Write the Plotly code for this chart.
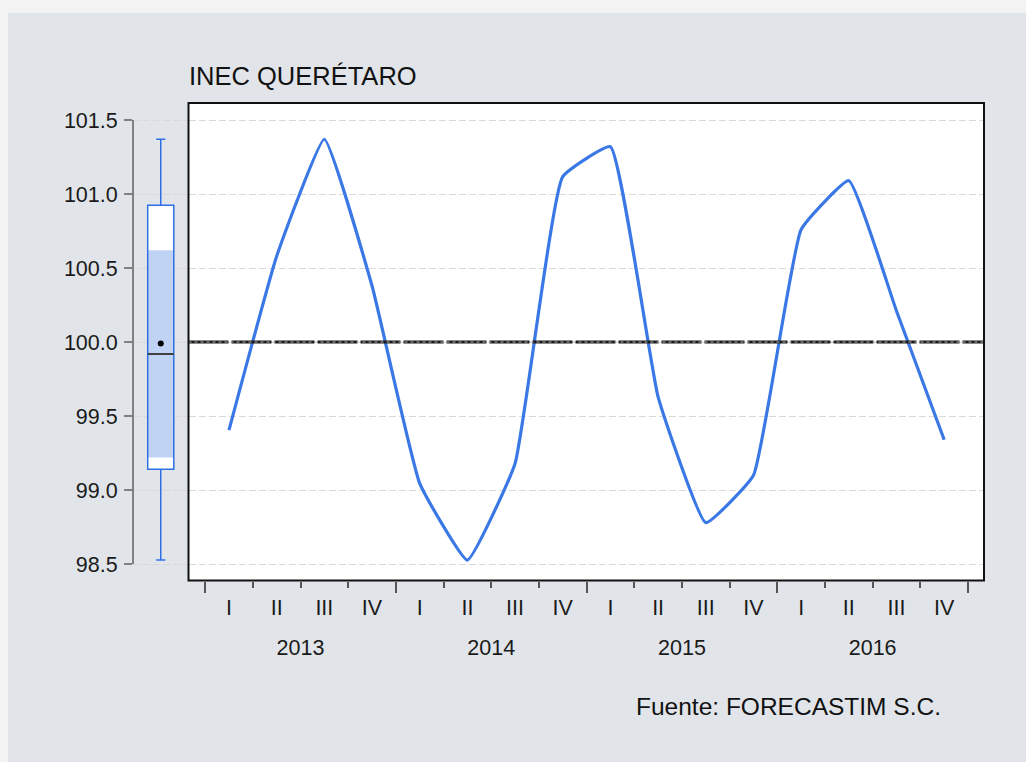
import numpy as np
import plotly.graph_objects as go

# ---------------- data ----------------
years = ["2013", "2014", "2015", "2016"]
quarters = ["I", "II", "III", "IV"]
inec = [99.405, 100.58, 101.37, 100.38,
        99.045, 98.527, 99.18, 101.117,
        101.32, 99.63, 98.78, 99.10,
        100.76, 101.09, 100.21, 99.34]
reference_level = 100.0
y_ticks = [98.5, 99.0, 99.5, 100.0, 100.5, 101.0, 101.5]
title_text = "INEC QUERÉTARO"
source_text = "Fuente: FORECASTIM S.C."

# ---------------- derived ----------------
vals = np.array(inec)
n = len(vals)
idx = list(range(n))
q_labels = [quarters[i % 4] for i in idx]
bounds = [i - 0.5 for i in range(n + 1)]
year_bounds = [i - 0.5 for i in range(0, n + 1, 4)]
year_centers = [i * 4 + 1.5 for i in range(len(years))]

q1 = float(np.percentile(vals, 25, method="hazen"))
q3 = float(np.percentile(vals, 75, method="hazen"))
med = float(np.median(vals))
mean = float(np.mean(vals))
iqr = q3 - q1
ci_lo = med - 1.57 * iqr / np.sqrt(n)
ci_hi = med + 1.57 * iqr / np.sqrt(n)

# ---------------- style ----------------
W, H = 1026, 762
FONT = "Arial, Liberation Sans, Helvetica, sans-serif"
BLUE = "#2f6fe6"
LINE_BLUE = "#3a78e6"
LIGHT_BLUE = "#c0d3f5"
PANEL = "#e1e5e9"

def px_x(p):
    return p / W

def px_y(p):
    return 1 - p / H

x_dom = [px_x(188.5), px_x(984)]
x2_dom = [px_x(133), px_x(188.5)]
y_dom = [px_y(580.5), px_y(103)]
x_range = [-0.849, 15.835]
y_range = [98.389, 101.615]
box_w = 0.94

fig = go.Figure()

# box panel fills (bars are drawn below the box layer)
fig.add_trace(go.Bar(x=[0], y=[q3 - q1], base=[q1], width=box_w,
                     marker=dict(color="white", line=dict(width=0)),
                     xaxis="x2", yaxis="y", showlegend=False, hoverinfo="skip"))
fig.add_trace(go.Bar(x=[0], y=[ci_hi - ci_lo], base=[ci_lo], width=box_w,
                     marker=dict(color=LIGHT_BLUE, line=dict(width=0)),
                     xaxis="x2", yaxis="y", showlegend=False, hoverinfo="skip"))
fig.add_trace(go.Box(y=inec, x=[0] * n, width=box_w, boxpoints=False,
                     quartilemethod="exclusive", whiskerwidth=0.35,
                     fillcolor="rgba(0,0,0,0)", line=dict(color=BLUE, width=1.5),
                     xaxis="x2", yaxis="y", showlegend=False))
fig.add_trace(go.Scatter(x=[-box_w / 2, box_w / 2], y=[med, med], mode="lines",
                         line=dict(color="#404040", width=2),
                         xaxis="x2", yaxis="y", showlegend=False, hoverinfo="skip"))
fig.add_trace(go.Scatter(x=[0], y=[mean], mode="markers",
                         marker=dict(color="black", size=6),
                         xaxis="x2", yaxis="y", showlegend=False))

# main series
fig.add_trace(go.Scatter(x=idx, y=inec, mode="lines",
                         line=dict(color=LINE_BLUE, width=3.2, shape="spline", smoothing=0.35),
                         xaxis="x", yaxis="y", showlegend=False))

# helper (invisible) trace so the year axis is drawn
fig.add_trace(go.Scatter(x=year_centers, y=[None] * len(year_centers), mode="markers",
                         xaxis="x3", yaxis="y", showlegend=False, hoverinfo="skip"))

tickfont = dict(family=FONT, size=21.5, color="#1a1a1a")

fig.update_layout(
    width=W, height=H,
    margin=dict(l=0, r=0, t=0, b=0),
    paper_bgcolor="#f3f3f3",
    plot_bgcolor="rgba(0,0,0,0)",
    barmode="overlay",
    xaxis=dict(domain=x_dom, range=x_range, anchor="y",
               tickmode="array", tickvals=idx, ticktext=q_labels, ticks="",
               tickfont=tickfont, ticklabelstandoff=12,
               showgrid=False, zeroline=False, showline=False,
               minor=dict(tickmode="array", tickvals=bounds, ticks="outside",
                          ticklen=6, tickwidth=1.5, tickcolor="#555555", showgrid=False)),
    xaxis3=dict(overlaying="x", anchor="y", side="bottom", range=x_range,
                domain=x_dom,
                tickmode="array", tickvals=year_centers, ticktext=years, ticks="",
                tickfont=tickfont, ticklabelstandoff=52,
                showgrid=False, zeroline=False, showline=False,
                minor=dict(tickmode="array", tickvals=year_bounds, ticks="outside",
                           ticklen=11, tickwidth=1.5, tickcolor="#555555", showgrid=False)),
    xaxis2=dict(domain=x2_dom, range=[-1, 1], anchor="y", visible=False),
    yaxis=dict(domain=y_dom, range=y_range, anchor="x2",
               tickmode="array", tickvals=y_ticks, tickformat=".1f",
               ticks="outside", ticklen=8, tickwidth=2, tickcolor="#808080",
               tickfont=tickfont, ticklabelstandoff=2,
               showgrid=True, gridcolor="#d9d9d9", gridwidth=1, griddash="7px,3px",
               zeroline=False, showline=False),
    shapes=[
        # grey panel
        dict(type="rect", xref="paper", yref="paper", x0=px_x(8), x1=1, y0=0, y1=px_y(13),
             fillcolor=PANEL, line=dict(width=0), layer="below"),
        # white plot area
        dict(type="rect", xref="x domain", yref="y domain", x0=0, x1=1, y0=0, y1=1,
             fillcolor="white", line=dict(width=0), layer="below"),
        # reference line at 100
        dict(type="line", xref="x domain", yref="y", x0=0, x1=1,
             y0=reference_level, y1=reference_level,
             line=dict(color="#1a1a1a", width=3, dash="40px,3px"), layer="above"),
        dict(type="line", xref="x domain", yref="y", x0=0, x1=1,
             y0=reference_level, y1=reference_level,
             line=dict(color="#b5b5b5", width=1, dash="3px,3px"), layer="above"),
        # y axis line (between first and last tick)
        dict(type="line", xref="x2 domain", yref="y", x0=0, x1=0,
             y0=min(y_ticks), y1=max(y_ticks),
             line=dict(color="#808080", width=2), layer="above"),
        # frame
        dict(type="rect", xref="x domain", yref="y domain", x0=0, x1=1, y0=0, y1=1,
             line=dict(color="#111111", width=2), fillcolor="rgba(0,0,0,0)", layer="above"),
    ],
    annotations=[
        dict(text=title_text, xref="paper", yref="paper", x=px_x(187), y=px_y(76),
             xanchor="left", yanchor="middle", showarrow=False,
             font=dict(family=FONT, size=25.5, color="#111111")),
        dict(text=source_text, xref="paper", yref="paper", x=px_x(943), y=px_y(706),
             xanchor="right", yanchor="middle", showarrow=False,
             font=dict(family=FONT, size=24.5, color="#111111")),
    ],
)

fig.write_html("out.html",
               config={"displayModeBar": False},
               post_script="document.body.style.margin='0';document.body.style.padding='0';"
                           "document.body.style.overflow='hidden';")
